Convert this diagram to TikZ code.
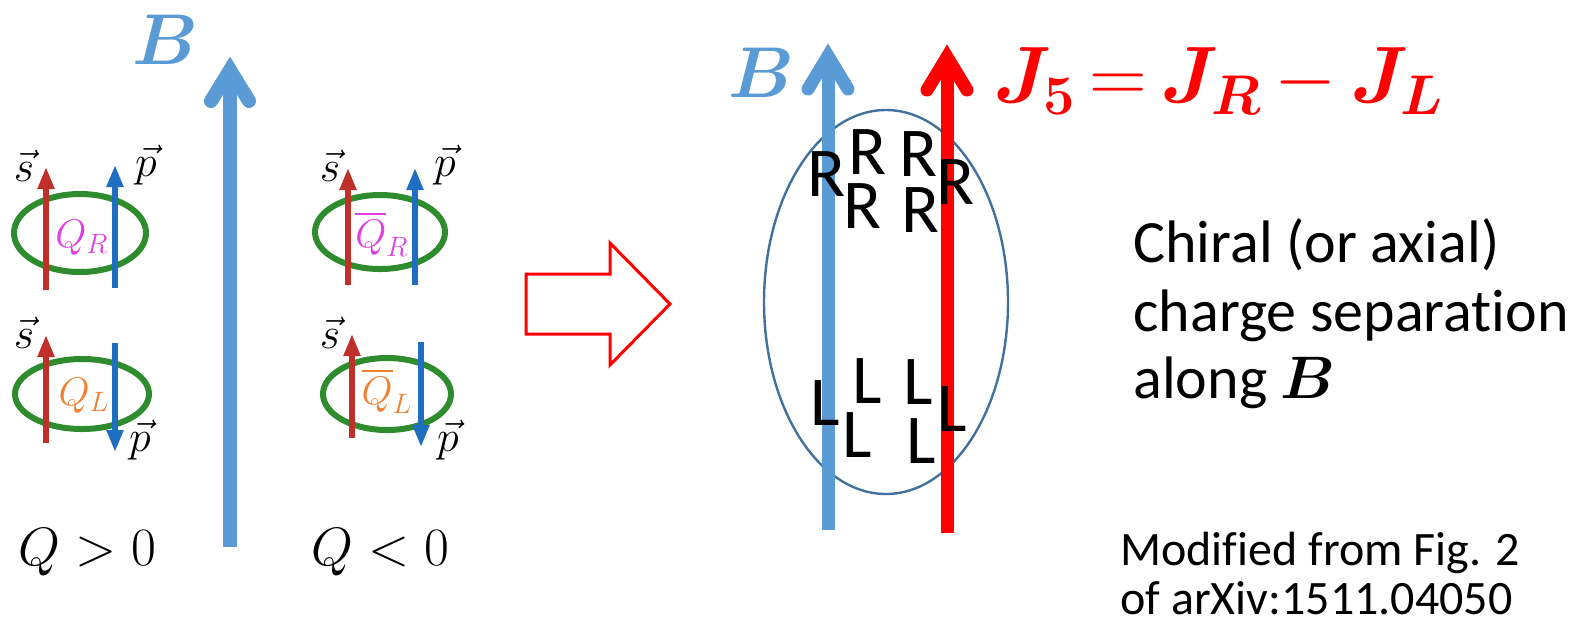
\RequirePackage{fix-cm}
\documentclass[tikz,border=0pt]{standalone}
\usepackage{amsmath,bm}
\usepackage{fontspec}
\newfontfamily\calibrifont[Ligatures=CommonOff]{Carlito}
\usetikzlibrary{arrows.meta}

\definecolor{fieldblue}{HTML}{5B9BD5}
\definecolor{currred}{HTML}{FF0000}
\definecolor{ringblue}{HTML}{41719C}
\definecolor{spinred}{HTML}{C0302A}
\definecolor{momblue}{HTML}{1F6EC0}
\definecolor{loopgreen}{HTML}{2E8B2E}
\definecolor{qmag}{HTML}{E040E0}
\definecolor{qorange}{HTML}{F08030}

\tikzset{
  shaft/.style={line width=#1, line cap=butt},
  chevron/.style={line width=#1, line cap=round, line join=miter},
  spin/.style={spinred, line width=2.6pt, -{Triangle[length=11pt,width=8pt]}},
  mom/.style={momblue, line width=2.6pt, -{Triangle[length=11pt,width=8pt]}},
  loop/.style={loopgreen, line width=3pt},
  vlab/.style={inner sep=0pt, font=\fontsize{22}{24}\selectfont},
  qlab/.style={inner sep=0pt, font=\fontsize{20}{22}\selectfont},
  chir/.style={inner sep=0pt, font=\calibrifont\fontsize{35}{40}\selectfont},
  bodytext/.style={inner sep=0pt, anchor=base west, font=\calibrifont\fontsize{30}{32}\selectfont},
  notetext/.style={inner sep=0pt, anchor=base west, font=\calibrifont\fontsize{24}{26}\selectfont},
}

\begin{document}
\begin{tikzpicture}[x=0.5pt,y=-0.5pt]
\useasboundingbox (0,0) rectangle (1572,623);

% ---------- left panel: field B ----------
\coordinate (lb0) at (230,547);
\coordinate (lbv) at (230,70);
\coordinate (lbwl) at (211,101);
\coordinate (lbwr) at (249,101);
\draw[fieldblue, shaft=7pt] (lb0) -- (lbv);
\draw[fieldblue, chevron=7pt] (lbwl) -- (lbv) -- (lbwr);
\node[fieldblue, inner sep=0pt, anchor=base, font=\fontsize{36}{40}\selectfont] (lB) at (165,64) {$\bm{B}$};

% ---------- Q > 0 : right- and left-handed particles ----------
\draw[loop] (80,233) ellipse [x radius=66, y radius=39];
\coordinate (a1s0) at (46,290); \coordinate (a1s1) at (46,167);
\coordinate (a1p0) at (115,288); \coordinate (a1p1) at (115,165);
\draw[spin] (a1s0) -- (a1s1);
\draw[mom] (a1p0) -- (a1p1);
\node[vlab] (a1s) at (24,166) {$\vec{s}$};
\node[vlab] (a1p) at (146,165) {$\vec{p}$};
\node[qlab, qmag] (a1q) at (82,238) {$Q_R$};

\draw[loop] (82,394) ellipse [x radius=67, y radius=35];
\coordinate (a2s0) at (46,443); \coordinate (a2s1) at (46,335);
\coordinate (a2p0) at (115,343); \coordinate (a2p1) at (115,452);
\draw[spin] (a2s0) -- (a2s1);
\draw[mom] (a2p0) -- (a2p1);
\node[vlab] (a2s) at (24,333) {$\vec{s}$};
\node[vlab] (a2p) at (140,440) {$\vec{p}$};
\node[qlab, qorange] (a2q) at (84,396) {$Q_L$};

% ---------- Q < 0 : antiparticles ----------
\draw[loop] (380,232) ellipse [x radius=65, y radius=37];
\coordinate (b1s0) at (348,285); \coordinate (b1s1) at (348,168);
\coordinate (b1p0) at (415,285); \coordinate (b1p1) at (415,168);
\draw[spin] (b1s0) -- (b1s1);
\draw[mom] (b1p0) -- (b1p1);
\node[vlab] (b1s) at (330,166) {$\vec{s}$};
\node[vlab] (b1p) at (445,165) {$\vec{p}$};
\node[qlab, qmag] (b1q) at (382,234) {$\overline{Q}_R$};

\draw[loop] (387,394) ellipse [x radius=64, y radius=36];
\coordinate (b2s0) at (352,438); \coordinate (b2s1) at (352,334);
\coordinate (b2p0) at (421,342); \coordinate (b2p1) at (421,447);
\draw[spin] (b2s0) -- (b2s1);
\draw[mom] (b2p0) -- (b2p1);
\node[vlab] (b2s) at (330,333) {$\vec{s}$};
\node[vlab] (b2p) at (448,440) {$\vec{p}$};
\node[qlab, qorange] (b2q) at (387,391) {$\overline{Q}_L$};

\node[inner sep=0pt, anchor=base west, font=\fontsize{27}{30}\selectfont] (qpos) at (18,565) {$Q>0$};
\node[inner sep=0pt, anchor=base west, font=\fontsize{27}{30}\selectfont] (qneg) at (311,565) {$Q<0$};

% ---------- block arrow ----------
\draw[currred, line width=1.5pt, line join=miter]
  (526,274) -- (610,274) -- (610,243) -- (670,304) -- (610,365) -- (610,334) -- (526,334) -- cycle;

% ---------- right panel ----------
\draw[ringblue, line width=1.2pt] (886,302) ellipse [x radius=122, y radius=192];

\coordinate (rb0) at (828,530);
\coordinate (rbv) at (828,56);
\coordinate (rbwl) at (808,89);
\coordinate (rbwr) at (848,89);
\draw[fieldblue, shaft=6.5pt] (rb0) -- (rbv);
\draw[fieldblue, chevron=6.5pt] (rbwl) -- (rbv) -- (rbwr);

\coordinate (rj0) at (947,533);
\coordinate (rjv) at (947,57);
\coordinate (rjwl) at (927,90);
\coordinate (rjwr) at (967,90);
\draw[currred, shaft=6.5pt] (rj0) -- (rjv);
\draw[currred, chevron=6.5pt] (rjwl) -- (rjv) -- (rjwr);

\node[fieldblue, inner sep=0pt, anchor=base, font=\fontsize{36}{40}\selectfont] (rB) at (761,97) {$\bm{B}$};
\node[currred, inner sep=0pt, anchor=base west, font=\fontsize{40}{44}\selectfont] (j5) at (993,102)
  {$\bm{J}_{\bm{5}}\mskip3mu{=}\mskip3mu\bm{J}_{\bm{R}}\mskip3mu{-}\mskip3mu\bm{J}_{\bm{L}}$};

% right-handed charges
\node[chir] (r1) at (826,174) {R};
\node[chir] (r2) at (867,152) {R};
\node[chir] (r3) at (862,206) {R};
\node[chir] (r4) at (918,154) {R};
\node[chir] (r5) at (920,210) {R};
\node[chir] (r6) at (955,182) {R};
% left-handed charges
\node[chir] (l1) at (825,403) {L};
\node[chir] (l2) at (867,381) {L};
\node[chir] (l3) at (857,435) {L};
\node[chir] (l4) at (918,382) {L};
\node[chir] (l5) at (921,441) {L};
\node[chir] (l6) at (952,409) {L};

% captions
\node[bodytext] (t1) at (1133,262) {Chiral (or axial)};
\node[bodytext] (t2) at (1133,331) {charge separation};
\node[bodytext] (t3) at (1133,398) {along $\bm{B}$};
\node[notetext] (n1) at (1120,565) {Modified from Fig. 2};
\node[notetext] (n2) at (1120,614) {of arXiv:1511.04050};
\end{tikzpicture}
\end{document}
